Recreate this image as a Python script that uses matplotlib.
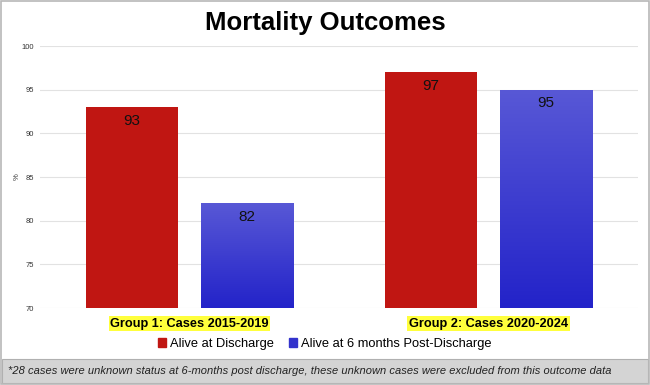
import matplotlib
matplotlib.use("Agg")
import matplotlib.pyplot as plt
import numpy as np
from matplotlib.patches import Rectangle
from matplotlib.colors import LinearSegmentedColormap

groups = ["Group 1: Cases 2015-2019", "Group 2: Cases 2020-2024"]
series_names = ["Alive at Discharge", "Alive at 6 months Post-Discharge"]
alive_discharge = [93, 97]
alive_6months = [82, 95]
yticks = [70, 75, 80, 85, 90, 95, 100]
title = "Mortality Outcomes"
footnote = "*28 cases were unknown status at 6-months post discharge, these unknown cases were excluded from this outcome data"

plt.rcParams['font.family'] = ['Liberation Sans', 'DejaVu Sans']

W, H = 650, 385
fig = plt.figure(figsize=(W/100, H/100), dpi=100)

def fx(px): return px / W
def fy(py): return 1 - py / H

ax = fig.add_axes([fx(40), fy(308), fx(638) - fx(40), fy(46) - fy(308)])
ax.set_xlim(-0.5, 1.5)
ax.set_ylim(70, 100)

red = "#c01612"
blue_cmap = LinearSegmentedColormap.from_list("b", ["#2323c9", "#5858d6"])

off = 0.192
bw = 0.308
x = np.arange(len(groups))
bars_r = ax.bar(x - off, alive_discharge, bw, bottom=0, color=red, zorder=3,
                label=series_names[0])
bars_b = ax.bar(x + off, alive_6months, bw, bottom=0, color="none", zorder=3,
                label=series_names[1])
grad = np.linspace(0, 1, 256).reshape(-1, 1)
for b in bars_b:
    x0 = b.get_x(); w = b.get_width(); h = b.get_height()
    im = ax.imshow(grad, cmap=blue_cmap, aspect="auto", origin="lower",
                   extent=[x0, x0 + w, 70, h], zorder=3)
    rect = Rectangle((x0, 70), w, h - 70, transform=ax.transData)
    im.set_clip_path(rect)
ax.set_xlim(-0.5, 1.5)
ax.set_ylim(70, 100)

for b, v in zip(list(bars_r) + list(bars_b), alive_discharge + alive_6months):
    ax.text(b.get_x() + b.get_width()/2, v - 0.75, f"{v}", ha="center", va="top",
            fontsize=11, color="#111111", zorder=5)

ax.set_yticks(yticks)
ax.tick_params(axis="y", length=0, labelsize=5.5, pad=4, labelcolor="#333333")
ax.set_xticks([])
ax.grid(axis="y", color="#e2e2e2", linewidth=0.8, zorder=0)
for s in ax.spines.values():
    s.set_visible(False)
ax.set_ylabel("%", fontsize=5.5, labelpad=1, color="#333333")

for xi, g in zip(x, groups):
    ax.text(xi, -0.06, g, transform=ax.get_xaxis_transform(), ha="center", va="center",
            fontsize=9.2, fontweight="bold", color="black",
            bbox=dict(boxstyle="square,pad=0.12", facecolor="#ffff3c", edgecolor="none"))

fig.text(0.5, fy(23), title, ha="center", va="center", fontsize=18.5, fontweight="bold")

handles = [Rectangle((0, 0), 1, 1, color=red), Rectangle((0, 0), 1, 1, color="#3333cc")]
fig.legend(handles, series_names, loc="center", bbox_to_anchor=(0.5, fy(344)), ncol=2,
           frameon=False, fontsize=9.3, handlelength=0.6, handleheight=0.6,
           handletextpad=0.3, columnspacing=1.2)

# footnote band
fig.patches.append(Rectangle((fx(2), fy(383)), fx(646), fy(359) - fy(383),
                             transform=fig.transFigure, facecolor="#d4d4d4",
                             edgecolor="#b0b0b0", linewidth=0.8, zorder=0))
fig.text(fx(8), fy(371), footnote, ha="left", va="center", fontsize=8.0,
         style="italic", color="#222222")

# outer border
fig.patches.append(Rectangle((fx(1), fy(384)), fx(648), fy(1) - fy(384),
                             transform=fig.transFigure, facecolor="none",
                             edgecolor="#b8b8b8", linewidth=1.2, zorder=10))

fig.savefig("out.png", dpi=100)
